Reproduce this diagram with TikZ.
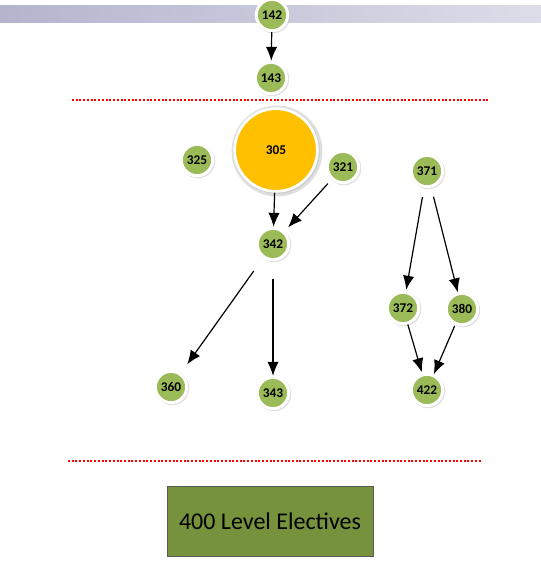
\documentclass[tikz,border=0pt]{standalone}
\usepackage{fontspec}
\setmainfont{Carlito}
\usetikzlibrary{shadows,arrows.meta}

\definecolor{nodegreen}{RGB}{155,187,89}
\definecolor{nodegold}{RGB}{255,192,0}
\definecolor{boxgreen}{RGB}{118,146,60}
\definecolor{barleft}{RGB}{180,180,206}
\definecolor{barright}{RGB}{221,221,233}

\tikzset{every picture/.style={line width=0.75pt}}
\tikzset{
  course/.style={circle, fill=nodegreen, draw=white, line width=2.25pt, minimum size=23.5pt, inner sep=0pt,
    font=\fontsize{10}{11}\selectfont\bfseries,
    drop shadow={shadow scale=1.1, shadow xshift=0.7pt, shadow yshift=-0.7pt, fill=black!25}},
  arr/.style={-{Latex[length=10.5pt,width=8.5pt]}, line width=0.9pt},
  redline/.style={red, line width=1.6pt, dash pattern={on 1.5pt off 1.3pt}}
}

\begin{document}
\begin{tikzpicture}[x=0.75pt,y=0.75pt,yscale=-1,xscale=1]
\useasboundingbox (0,0) rectangle (541,565);

%Shape: Rectangle [id:bar]
\shade [left color=barleft, right color=barright] (0,5) rectangle (541,22);
%Straight Lines [id:dotted]
\draw [redline] (72,100) -- (488,100);
\draw [redline] (68,461) -- (481,461);

% Text Node
\node [course] (n142) at (272,15) {142};
\node [course] (n143) at (271,78) {143};
\node [course, fill=nodegold, minimum size=62pt, line width=2pt,
  drop shadow={shadow scale=1.04, shadow xshift=0.7pt, shadow yshift=-0.7pt, fill=black!25}] (n305) at (276,150) {305};
\node [course] (n325) at (197,160) {325};
\node [course] (n321) at (343,167) {321};
\node [course] (n371) at (427,171) {371};
\node [course] (n342) at (273,244) {342};
\node [course] (n372) at (403,308) {372};
\node [course] (n380) at (462,309) {380};
\node [course] (n360) at (171,387) {360};
\node [course] (n343) at (273,393) {343};
\node [course] (n422) at (427,390) {422};

% Text Node
\node [draw=black!65, fill=boxgreen, minimum width=154.5pt, minimum height=52.5pt, font=\fontsize{18}{21}\selectfont] (elect) at (270,521) {400 Level Electives};

%Straight Lines
\draw [arr, shorten <=0pt, shorten >=0pt] (n142) -- (n143);
\draw [arr, shorten <=0pt, shorten >=0pt] (n305) -- (n342);
\draw [arr, shorten <=4pt, shorten >=4pt] (n321) -- (n342);
\draw [arr, shorten <=12pt, shorten >=8pt] (n342) -- (n360);
\draw [arr, shorten <=13pt, shorten >=0pt] (n342) -- (n343);
\draw [arr, shorten <=7pt, shorten >=1pt] (n371) -- (n372);
\draw [arr, shorten <=7pt, shorten >=0pt] (n371) -- (n380);
\draw [arr, shorten <=0pt, shorten >=1pt] (n372) -- (n422);
\draw [arr, shorten <=1pt, shorten >=0pt] (n380) -- (n422);

\end{tikzpicture}
\end{document}
